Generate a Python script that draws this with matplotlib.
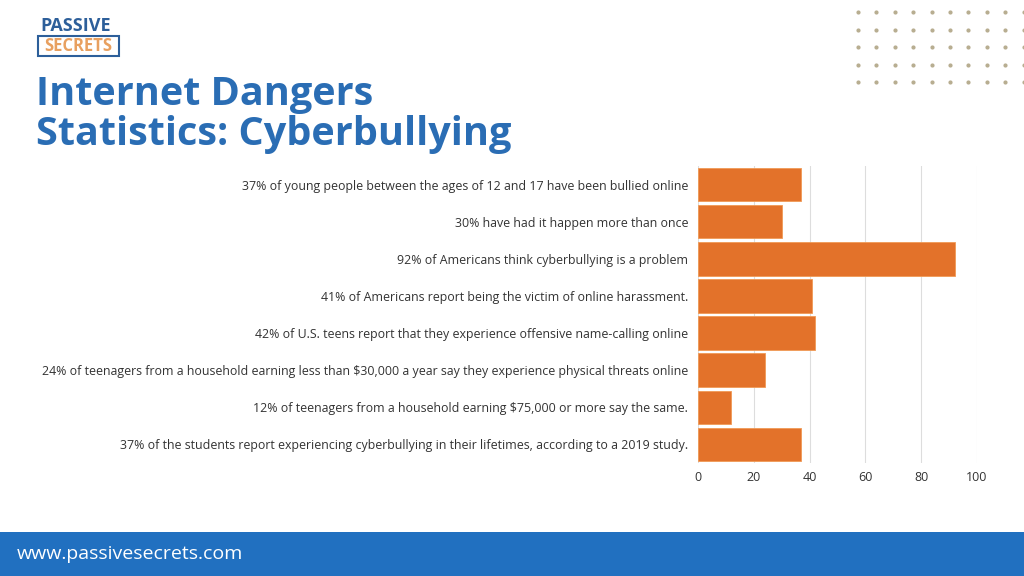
import numpy as np
import matplotlib.pyplot as plt
from matplotlib.patches import Rectangle

# -------------------------------------------------
# data
# -------------------------------------------------
labels = [
    "37% of young people between the ages of 12 and 17 have been bullied online",
    "30% have had it happen more than once",
    "92% of Americans think cyberbullying is a problem",
    "41% of Americans report being the victim of online harassment.",
    "42% of U.S. teens report that they experience offensive name-calling online",
    "24% of teenagers from a household earning less than $30,000 a year say they experience physical threats online",
    "12% of teenagers from a household earning $75,000 or more say the same.",
    "37% of the students report experiencing cyberbullying in their lifetimes, according to a 2019 study.",
]
values = [37, 30, 92, 41, 42, 24, 12, 37]
x_ticks = [0, 20, 40, 60, 80, 100]

BLUE = "#2a6db4"
ORANGE = "#e3722a"
FONT = "Open Sans"

plt.rcParams["font.family"] = [FONT, "DejaVu Sans"]

fig = plt.figure(figsize=(10.24, 5.76), dpi=100)
fig.patch.set_facecolor("white")

# -------------------------------------------------
# bar chart
# -------------------------------------------------
ax = fig.add_axes([698 / 1024, 1 - 463 / 576, (977 - 698) / 1024, (463 - 166) / 576])
y = np.arange(len(values))
ax.barh(y, values, height=0.9, color=ORANGE, edgecolor="#f09a55", linewidth=0.6, zorder=3)
ax.set_ylim(len(values) - 0.5, -0.5)
ax.set_xlim(0, 100)
ax.set_xticks(x_ticks)
ax.set_yticks(y)
ax.set_yticklabels(labels, fontsize=8.95, color="#333333")
ax.tick_params(axis="x", labelsize=9, colors="#333333", length=0, pad=6)
ax.tick_params(axis="y", length=0, pad=7)
ax.grid(axis="x", color="#dddddd", linewidth=0.8, zorder=0)
for s in ax.spines.values():
    s.set_visible(False)

# -------------------------------------------------
# title + logo
# -------------------------------------------------
fig.text(36 / 1024, 1 - 94 / 576, "Internet Dangers", fontsize=28.5, fontweight="bold",
         color=BLUE, va="center", ha="left")
fig.text(36 / 1024, 1 - 134 / 576, "Statistics: Cyberbullying", fontsize=28.5, fontweight="bold",
         color=BLUE, va="center", ha="left")

fig.text(40 / 1024, 1 - 26 / 576, "PASSIVE", fontsize=13, fontweight="bold",
         color="#2d5f9a", va="center", ha="left")
fig.patches.append(Rectangle((38 / 1024, 1 - 56 / 576), 81 / 1024, 20 / 576,
                             transform=fig.transFigure, fill=False,
                             edgecolor="#2d5f9a", linewidth=1.5))
fig.text(78.5 / 1024, 1 - 46 / 576, "SECRETS", fontsize=12, fontweight="bold",
         color="#e8a060", va="center", ha="center")

# decorative dots top-right
dx, dy = np.meshgrid(np.arange(10) * 18.4 + 858, np.arange(5) * 17.5 + 12)
dots = fig.add_axes([0, 0, 1, 1], facecolor="none", zorder=-1)
dots.scatter(dx.ravel(), dy.ravel(), s=4, color="#b7ad90")
dots.set_xlim(0, 1024)
dots.set_ylim(576, 0)
dots.axis("off")

# -------------------------------------------------
# footer
# -------------------------------------------------
fig.patches.append(Rectangle((0, 0), 1, 44 / 576, transform=fig.transFigure,
                             facecolor="#2170c0", edgecolor="none"))
fig.text(17 / 1024, 1 - 554 / 576, "www.passivesecrets.com", fontsize=14,
         color="white", va="center", ha="left")

fig.savefig("out.png", dpi=100)
